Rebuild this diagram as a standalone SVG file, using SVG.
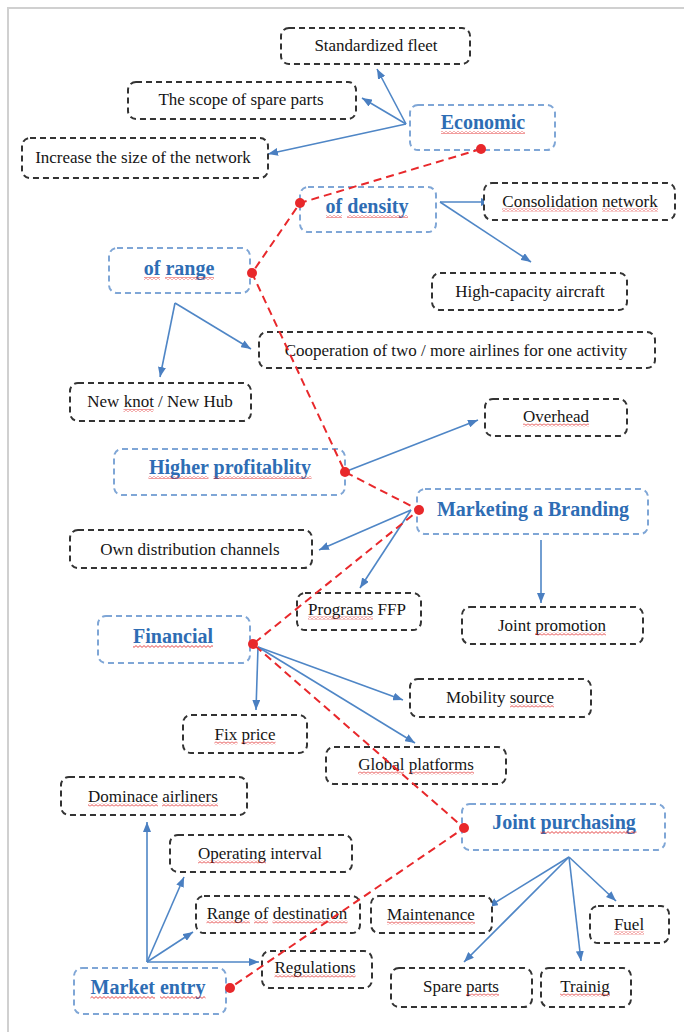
<svg xmlns="http://www.w3.org/2000/svg" width="684" height="1032" viewBox="0 0 684 1032">
<style>
.bk{fill:#fff;stroke:#333;stroke-width:2;stroke-dasharray:6 4}
.bl{fill:#fff;stroke:#7fa6d6;stroke-width:2;stroke-dasharray:6 4}
.t{font-family:"Liberation Serif","Times New Roman",serif;font-size:17px;fill:#151515;text-anchor:middle}
.tb{font-family:"Liberation Serif","Times New Roman",serif;font-size:20px;font-weight:bold;fill:#2e6db4;text-anchor:middle}
.c{stroke:#4f86c6;stroke-width:1.6;fill:none;marker-end:url(#ah)}
.r{stroke:#e8282b;stroke-width:2;fill:none;stroke-dasharray:8 5}
.d{fill:#e8282b}
.w{fill:url(#wavy)}
</style>
<defs>
<marker id="ah" markerUnits="userSpaceOnUse" markerWidth="10" markerHeight="8" refX="10" refY="4" orient="auto">
<path d="M0,0 L10,4 L0,8 z" fill="#4a7fc1"/>
</marker>
<pattern id="wavy" patternUnits="userSpaceOnUse" width="4" height="3">
<path d="M0,0.6 L2,2.4 L4,0.6" stroke="#e02020" stroke-width="0.8" fill="none"/>
</pattern>
</defs>
<rect width="684" height="1032" fill="#fff"/>
<path d="M8,1032 V8 H684" stroke="#d0d0d0" stroke-width="2" fill="none"/>

<g id="connectors">
<line class="c" x1="406" y1="124" x2="377" y2="69"/>
<line class="c" x1="406" y1="124" x2="362" y2="98"/>
<line class="c" x1="406" y1="124" x2="268" y2="154"/>
<line class="c" x1="440" y1="202" x2="491" y2="202"/>
<line class="c" x1="440" y1="202" x2="531" y2="262"/>
<line class="c" x1="175" y1="303" x2="160" y2="377"/>
<line class="c" x1="175" y1="303" x2="251" y2="349"/>
<line class="c" x1="347" y1="471" x2="478" y2="420"/>
<line class="c" x1="411" y1="510" x2="319" y2="550"/>
<line class="c" x1="411" y1="510" x2="360" y2="588"/>
<line class="c" x1="541" y1="540" x2="541" y2="603"/>
<line class="c" x1="258" y1="647" x2="256" y2="710"/>
<line class="c" x1="258" y1="647" x2="403" y2="700"/>
<line class="c" x1="258" y1="647" x2="415" y2="743"/>
<line class="c" x1="569" y1="857" x2="488" y2="907"/>
<line class="c" x1="569" y1="857" x2="464" y2="962"/>
<line class="c" x1="569" y1="857" x2="581" y2="961"/>
<line class="c" x1="569" y1="857" x2="616" y2="901"/>
<line class="c" x1="147" y1="962" x2="147" y2="822"/>
<line class="c" x1="147" y1="962" x2="184" y2="877"/>
<line class="c" x1="147" y1="962" x2="193" y2="932"/>
<line class="c" x1="147" y1="962" x2="259" y2="962"/>
</g>

<g id="n-standardized"><rect class="bk" x="281" y="28" width="189" height="36" rx="8"/><text class="t" x="376" y="51">Standardized fleet</text></g>
<g id="n-scope"><rect class="bk" x="128" y="82" width="228" height="37" rx="8"/><text class="t" x="241" y="105">The scope of spare parts</text></g>
<g id="n-increase"><rect class="bk" x="22" y="138" width="246" height="40" rx="8"/><text class="t" x="143" y="163">Increase the size of the network</text></g>
<g id="n-consolidation"><rect class="bk" x="484" y="183" width="191" height="37" rx="8"/><text class="t" x="580" y="206.5">Consolidation network</text><rect class="w" x="502" y="208.5" width="96" height="3"/><rect class="w" x="602" y="208.5" width="56" height="3"/></g>
<g id="n-highcap"><rect class="bk" x="432" y="273" width="195" height="37" rx="8"/><text class="t" x="530" y="296.5">High-capacity aircraft</text></g>
<g id="n-cooperation"><rect class="bk" x="259" y="332" width="396" height="36" rx="8"/><text class="t" x="456" y="355.5">Cooperation of two / more airlines for one activity</text></g>
<g id="n-newknot"><rect class="bk" x="70" y="383" width="181" height="38" rx="8"/><text class="t" x="160" y="407">New knot / New Hub</text><rect class="w" x="123.5" y="409" width="30" height="3"/></g>
<g id="n-overhead"><rect class="bk" x="485" y="399" width="142" height="37" rx="8"/><text class="t" x="556" y="421.5">Overhead</text><rect class="w" x="523" y="423.5" width="66" height="3"/></g>
<g id="n-owndist"><rect class="bk" x="70" y="530" width="242" height="38" rx="8"/><text class="t" x="190" y="554.5">Own distribution channels</text></g>
<g id="n-ffp"><rect class="bk" x="297" y="593" width="124" height="37" rx="8"/><text class="t" x="357" y="614.5">Programs FFP</text><rect class="w" x="308" y="616.5" width="65" height="3"/></g>
<g id="n-jointpromo"><rect class="bk" x="462" y="607" width="181" height="37" rx="8"/><text class="t" x="552" y="630.5">Joint promotion</text><rect class="w" x="535" y="632.5" width="71" height="3"/></g>
<g id="n-mobility"><rect class="bk" x="410" y="679" width="181" height="38" rx="8"/><text class="t" x="500" y="702.5">Mobility source</text><rect class="w" x="510" y="704.5" width="44" height="3"/></g>
<g id="n-fixprice"><rect class="bk" x="183" y="715" width="124" height="38" rx="8"/><text class="t" x="245" y="739.5">Fix price</text><rect class="w" x="214.5" y="741.5" width="23" height="3"/><rect class="w" x="241.5" y="741.5" width="34" height="3"/></g>
<g id="n-global"><rect class="bk" x="326" y="747" width="180" height="37" rx="8"/><text class="t" x="416" y="769.5">Global platforms</text><rect class="w" x="358" y="771.5" width="46" height="3"/><rect class="w" x="409" y="771.5" width="65" height="3"/></g>
<g id="n-dominace"><rect class="bk" x="61" y="777" width="186" height="38" rx="8"/><text class="t" x="153" y="801.5">Dominace airliners</text><rect class="w" x="88" y="803.5" width="70" height="3"/><rect class="w" x="162" y="803.5" width="56" height="3"/></g>
<g id="n-operating"><rect class="bk" x="170" y="835" width="182" height="37" rx="8"/><text class="t" x="260" y="858.5">Operating interval</text><rect class="w" x="198" y="860.5" width="68" height="3"/></g>
<g id="n-range-dest"><rect class="bk" x="196" y="896" width="164" height="37" rx="8"/><text class="t" x="277" y="918.5">Range of destination</text><rect class="w" x="206.5" y="920.5" width="43.5" height="3"/><rect class="w" x="254" y="920.5" width="14" height="3"/><rect class="w" x="272.5" y="920.5" width="75" height="3"/></g>
<g id="n-maintenance"><rect class="bk" x="371" y="896" width="121" height="37" rx="8"/><text class="t" x="431" y="919.5">Maintenance</text><rect class="w" x="387" y="921.5" width="88" height="3"/></g>
<g id="n-fuel"><rect class="bk" x="590" y="906" width="79" height="37" rx="8"/><text class="t" x="629" y="929.5">Fuel</text><rect class="w" x="614" y="931.5" width="30" height="3"/></g>
<g id="n-regulations"><rect class="bk" x="262" y="951" width="110" height="37" rx="8"/><text class="t" x="315" y="972.5">Regulations</text><rect class="w" x="274.5" y="974.5" width="81" height="3"/></g>
<g id="n-spare"><rect class="bk" x="391" y="968" width="141" height="39" rx="8"/><text class="t" x="461" y="991.5">Spare parts</text><rect class="w" x="466" y="993.5" width="33" height="3"/></g>
<g id="n-trainig"><rect class="bk" x="541" y="968" width="90" height="39" rx="8"/><text class="t" x="585" y="991.5">Trainig</text><rect class="w" x="560" y="993.5" width="50" height="3"/></g>

<g id="b-economic"><rect class="bl" x="410" y="105" width="145" height="45" rx="8"/><text class="tb" x="483" y="129">Economic</text><rect class="w" x="441" y="131" width="84" height="3"/></g>
<g id="b-density"><rect class="bl" x="300" y="187" width="136" height="45" rx="8"/><text class="tb" x="367" y="213">of density</text><rect class="w" x="326" y="215" width="16" height="3"/><rect class="w" x="347" y="215" width="61" height="3"/></g>
<g id="b-range"><rect class="bl" x="109" y="248" width="141" height="45" rx="8"/><text class="tb" x="179" y="275">of range</text><rect class="w" x="144" y="277" width="16" height="3"/><rect class="w" x="165" y="277" width="49" height="3"/></g>
<g id="b-profit"><rect class="bl" x="114" y="449" width="231" height="46" rx="8"/><text class="tb" x="230" y="474">Higher profitablity</text><rect class="w" x="148.5" y="476" width="60" height="3"/><rect class="w" x="213.5" y="476" width="98" height="3"/></g>
<g id="b-marketing"><rect class="bl" x="417" y="489" width="231" height="45" rx="8"/><text class="tb" x="533" y="516">Marketing a Branding</text></g>
<g id="b-financial"><rect class="bl" x="98" y="616" width="152" height="47" rx="8"/><text class="tb" x="173" y="643">Financial</text><rect class="w" x="133" y="645" width="80" height="3"/></g>
<g id="b-purchasing"><rect class="bl" x="462" y="804" width="203" height="46" rx="8"/><text class="tb" x="564" y="829">Joint purchasing</text><rect class="w" x="540.5" y="831" width="96" height="3"/></g>
<g id="b-market"><rect class="bl" x="74" y="968" width="152" height="46" rx="8"/><text class="tb" x="148" y="994">Market entry</text><rect class="w" x="90.5" y="996" width="64.5" height="3"/><rect class="w" x="160" y="996" width="45.5" height="3"/></g>

<g id="chain">
<polyline class="r" points="481,149 300,203 252,273 345,472 419,510 253,644 464,828 230,988"/>
<circle class="d" cx="481" cy="149" r="5"/>
<circle class="d" cx="300" cy="203" r="5"/>
<circle class="d" cx="252" cy="273" r="5"/>
<circle class="d" cx="345" cy="472" r="5"/>
<circle class="d" cx="419" cy="510" r="5"/>
<circle class="d" cx="253" cy="644" r="5"/>
<circle class="d" cx="464" cy="828" r="5"/>
<circle class="d" cx="230" cy="988" r="5"/>
</g>
</svg>
